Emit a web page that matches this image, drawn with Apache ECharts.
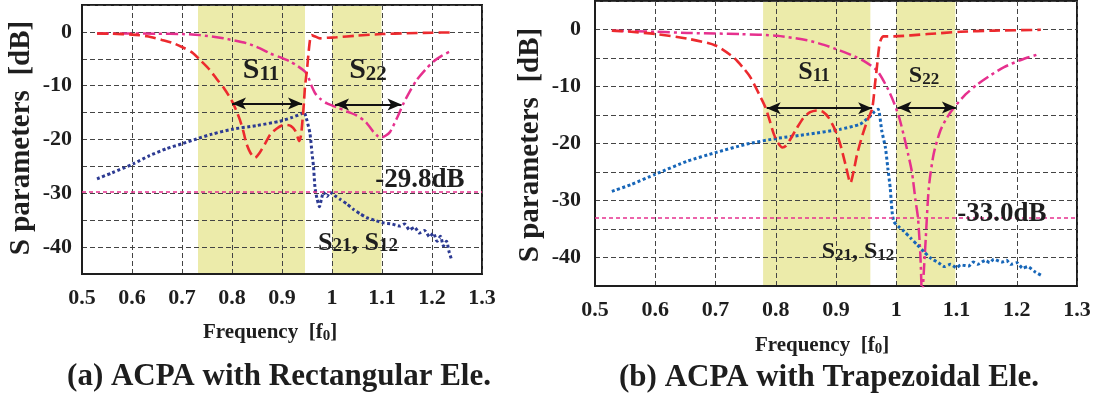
<!DOCTYPE html>
<html><head><meta charset="utf-8">
<script src="https://cdn.jsdelivr.net/npm/echarts@6/dist/echarts.min.js"></script>
<style>html,body{margin:0;padding:0;background:#fff}#c{width:1098px;height:398px}</style>
</head><body><div id="c"></div>
<script>
// ---- data (frequency [f0], dB) ----
const xRange = [0.5, 1.3];
const yRange = [-45, 5];

const s11A = [[0.53,-0.3],[0.56,-0.35],[0.6,-0.5],[0.63,-0.8],[0.66,-1.5],[0.68,-2.0],[0.70,-2.8],[0.72,-3.8],[0.736,-5.2],[0.755,-7.0],[0.769,-8.7],[0.785,-10.6],[0.799,-12.7],[0.808,-14.5],[0.816,-16.4],[0.823,-18.6],[0.829,-20.8],[0.837,-22.5],[0.846,-23.4],[0.855,-22.5],[0.866,-20.8],[0.877,-19.0],[0.889,-18.0],[0.90,-17.4],[0.909,-17.3],[0.918,-17.5],[0.926,-18.3],[0.931,-19.5],[0.934,-20.3],[0.938,-19.2],[0.941,-16.4],[0.944,-13.0],[0.946,-10.2],[0.950,-7.0],[0.953,-4.0],[0.956,-1.5],[0.959,-0.6],[0.965,-0.8],[0.976,-1.2],[0.99,-1.1],[1.009,-1.0],[1.05,-0.7],[1.1,-0.4],[1.15,-0.25],[1.2,-0.15],[1.24,-0.1]];
const s22A = [[0.53,-0.3],[0.6,-0.3],[0.65,-0.35],[0.70,-0.4],[0.736,-0.6],[0.783,-1.2],[0.829,-2.1],[0.855,-3.0],[0.876,-4.0],[0.896,-4.7],[0.916,-5.5],[0.932,-6.4],[0.946,-7.4],[0.953,-8.5],[0.959,-10.0],[0.967,-11.5],[0.976,-12.4],[0.99,-13.3],[1.009,-14.0],[1.03,-14.8],[1.049,-15.5],[1.068,-16.8],[1.083,-18.6],[1.092,-19.4],[1.099,-19.6],[1.107,-19.3],[1.116,-18.6],[1.13,-16.0],[1.143,-13.3],[1.156,-11.0],[1.169,-9.0],[1.186,-7.1],[1.203,-5.5],[1.22,-4.4],[1.239,-3.5]];
const s21A = [[0.53,-27.3],[0.56,-26.2],[0.603,-24.5],[0.635,-23.0],[0.669,-21.7],[0.70,-20.8],[0.729,-19.9],[0.76,-19.0],[0.80,-18.1],[0.85,-17.4],[0.896,-16.6],[0.92,-15.9],[0.939,-15.2],[0.944,-14.9],[0.950,-16.5],[0.956,-18.9],[0.960,-22.5],[0.963,-25.0],[0.966,-28.9],[0.970,-31.0],[0.975,-32.5],[0.979,-31.0],[0.983,-29.8],[0.990,-30.6],[0.996,-29.8],[1.005,-30.4],[1.016,-31.1],[1.03,-32.0],[1.043,-33.0],[1.056,-33.8],[1.069,-34.5],[1.085,-35.0],[1.103,-35.5],[1.12,-35.7],[1.136,-36.1],[1.145,-35.7],[1.155,-36.8],[1.165,-36.3],[1.175,-37.4],[1.185,-36.9],[1.195,-38.1],[1.203,-37.4],[1.21,-38.9],[1.217,-38.0],[1.223,-39.8],[1.229,-38.9],[1.234,-40.8],[1.239,-42.3]];
const refA = -29.8;
const bandsA = [[0.732, 0.946], [1.0, 1.099]];
const arrowsA = [[0.80, 0.94, -13.3], [1.006, 1.139, -13.5]];

const s11B = [[0.528,-0.2],[0.56,-0.4],[0.6,-0.8],[0.653,-1.6],[0.70,-2.8],[0.730,-4.9],[0.745,-6.6],[0.758,-8.4],[0.775,-11.9],[0.783,-13.7],[0.790,-16.0],[0.797,-18.4],[0.804,-19.9],[0.811,-20.7],[0.817,-20.4],[0.824,-19.3],[0.835,-17.3],[0.846,-15.5],[0.857,-14.5],[0.869,-14.2],[0.879,-14.5],[0.888,-15.5],[0.898,-17.5],[0.907,-20.1],[0.916,-23.8],[0.924,-26.9],[0.930,-24.5],[0.935,-21.9],[0.944,-18.5],[0.952,-16.0],[0.960,-13.9],[0.965,-9.3],[0.968,-6.5],[0.971,-3.5],[0.974,-1.9],[0.979,-1.2],[0.996,-1.2],[1.052,-0.8],[1.107,-0.4],[1.162,-0.2],[1.24,-0.05]];
const s22B = [[0.528,-0.2],[0.6,-0.4],[0.653,-0.6],[0.70,-0.7],[0.741,-0.8],[0.802,-1.1],[0.852,-1.9],[0.88,-2.7],[0.907,-3.7],[0.930,-4.7],[0.946,-5.5],[0.968,-7.2],[0.985,-10.2],[0.996,-12.8],[1.005,-15.5],[1.013,-18.8],[1.020,-22.0],[1.026,-25.0],[1.032,-30.0],[1.036,-33.0],[1.040,-39.5],[1.043,-47],[1.046,-42],[1.049,-36.6],[1.054,-27.8],[1.062,-21.9],[1.073,-17.8],[1.084,-15.5],[1.096,-13.7],[1.115,-11.4],[1.135,-9.6],[1.157,-8.0],[1.179,-6.6],[1.208,-5.3],[1.237,-4.3]];
const s21B = [[0.528,-28.4],[0.56,-27.2],[0.6,-25.4],[0.653,-23.1],[0.70,-21.6],[0.752,-20.1],[0.802,-19.1],[0.852,-18.4],[0.907,-17.5],[0.940,-16.6],[0.957,-15.2],[0.964,-14.4],[0.970,-14.0],[0.976,-17.8],[0.982,-20.7],[0.986,-24.3],[0.990,-27.8],[0.993,-31.9],[0.996,-33.7],[1.003,-34.5],[1.013,-35.4],[1.024,-36.6],[1.035,-37.8],[1.046,-39.0],[1.057,-40.1],[1.07,-40.9],[1.08,-41.6],[1.09,-41.2],[1.10,-41.8],[1.107,-41.3],[1.12,-41.5],[1.128,-40.8],[1.135,-41.2],[1.148,-40.5],[1.155,-40.9],[1.162,-40.3],[1.175,-40.8],[1.183,-40.5],[1.19,-41.2],[1.20,-40.9],[1.21,-41.9],[1.218,-41.6],[1.23,-42.5],[1.24,-43.1]];
const refB = -33.0;
const bandsB = [[0.779, 0.957], [1.0, 1.098]];
const arrowsB = [[0.785, 0.960, -13.8], [1.002, 1.099, -13.7]];

// ---- styles ----
const FF = '"Liberation Serif","Times New Roman",serif';
const INK = '#1e1e1e';
const RED = '#ec2a2e', PINK = '#e6308e', BLUE_A = '#2c3a92', BLUE_B = '#1766b8';
const YEL = '#ecebaa';

const grids = [
  {left: 82, top: 5, width: 400, height: 269},
  {left: 595, top: 1, width: 482, height: 285}
];

function xAx(i) {
  return {
    type: 'value', gridIndex: i, min: xRange[0], max: xRange[1], interval: 0.1,
    axisLine: {show: true, onZero: false, lineStyle: {color: INK, width: 2}},
    axisTick: {show: false},
    axisLabel: {margin: 13, color: INK, fontFamily: FF, fontWeight: 'bold', fontSize: 22,
      formatter: v => String(+v.toFixed(1))},
    splitLine: {show: true, lineStyle: {color: '#444', type: [5, 3], width: 1}}
  };
}
function yAx(i, m) {
  return {
    type: 'value', gridIndex: i, min: yRange[0], max: yRange[1], interval: 5,
    axisLine: {show: true, onZero: false, lineStyle: {color: INK, width: 2}},
    axisTick: {show: false},
    axisLabel: {margin: m, color: INK, fontFamily: FF, fontWeight: 'bold', fontSize: 22,
      formatter: v => (Math.round(v) % 10 === 0 ? String(Math.round(v)) : '')},
    splitLine: {show: true, lineStyle: {color: '#444', type: [5, 3], width: 1}}
  };
}

function bandSeries(i, bands) {
  return {
    type: 'custom', xAxisIndex: i, yAxisIndex: i, z: -1, silent: true,
    data: bands,
    renderItem: (params, api) => {
      const p0 = api.coord([api.value(0), yRange[1]]);
      const p1 = api.coord([api.value(1), yRange[0]]);
      return {type: 'rect', shape: {x: p0[0], y: p0[1], width: p1[0] - p0[0], height: p1[1] - p0[1]},
        style: {fill: YEL}};
    }
  };
}

function curveSeries(i, s11, s22, s21, blue, ref, arrows) {
  return [
    {type: 'line', xAxisIndex: i, yAxisIndex: i, data: s22, symbol: 'none', smooth: 0.25, z: 3,
      lineStyle: {color: PINK, width: 2.5, type: [12, 4, 3, 4]}},
    {type: 'line', xAxisIndex: i, yAxisIndex: i, data: s21, symbol: 'none', smooth: 0.2, z: 3,
      lineStyle: {color: blue, width: 3, type: [3, 2.5]},
      markLine: {silent: true, symbol: 'none', label: {show: false},
        lineStyle: {color: PINK, width: 1.6, type: [4, 3]},
        data: [{yAxis: ref}]}},
    {type: 'line', xAxisIndex: i, yAxisIndex: i, data: s11, symbol: 'none', smooth: 0.25, z: 4,
      lineStyle: {color: RED, width: 2.6, type: [11, 5]},
      markLine: {silent: true, symbol: ['arrow', 'arrow'], symbolSize: [9, 14], label: {show: false},
        lineStyle: {color: '#111', width: 1.8, type: 'solid'},
        data: arrows.map(a => [{coord: [a[0], a[2]]}, {coord: [a[1], a[2]]}])}}
  ];
}

function sub(x, y, big, small, text) {
  return {type: 'text', x: x, y: y, z: 10,
    style: {text: text, align: 'center', verticalAlign: 'middle',
      rich: {
        a: {fontSize: big, fontFamily: FF, fontWeight: 'bold', fill: INK, color: INK, verticalAlign: 'bottom'},
        b: {fontSize: small, fontFamily: FF, fontWeight: 'bold', fill: INK, color: INK, verticalAlign: 'bottom'}
      }}};
}
function txt(x, y, text, size, rot) {
  return {type: 'text', x: x, y: y, rotation: rot || 0, z: 10,
    style: {text: text, fontSize: size, fontFamily: FF, fontWeight: 'bold', fill: INK,
      align: 'center', verticalAlign: 'middle'}};
}

const chart = echarts.init(document.getElementById('c'));
chart.setOption({
  animation: false,
  backgroundColor: '#fff',
  grid: grids.map(g => Object.assign({show: true, borderColor: INK, borderWidth: 2, backgroundColor: 'transparent'}, g)),
  xAxis: [xAx(0), xAx(1)],
  yAxis: [yAx(0, 10), yAx(1, 14)],
  series: [
    bandSeries(0, bandsA), bandSeries(1, bandsB),
    ...curveSeries(0, s11A, s22A, s21A, BLUE_A, refA, arrowsA),
    ...curveSeries(1, s11B, s22B, s21B, BLUE_B, refB, arrowsB)
  ],
  graphic: [
    txt(22, 138, 'S parameters  [dB]', 29, Math.PI / 2),
    txt(531, 145, 'S parameters  [dB]', 29, Math.PI / 2),
    {type: 'text', x: 270, y: 333, z: 10, style: {text: '{a|Frequency  [f}{b|0}{a|]}', align: 'center', verticalAlign: 'middle',
      rich: {a: {fontSize: 21, fontFamily: FF, fontWeight: 'bold', fill: INK, verticalAlign: 'bottom'},
             b: {fontSize: 15, fontFamily: FF, fontWeight: 'bold', fill: INK, verticalAlign: 'bottom'}}}},
    {type: 'text', x: 822, y: 346, z: 10, style: {text: '{a|Frequency  [f}{b|0}{a|]}', align: 'center', verticalAlign: 'middle',
      rich: {a: {fontSize: 21, fontFamily: FF, fontWeight: 'bold', fill: INK, verticalAlign: 'bottom'},
             b: {fontSize: 15, fontFamily: FF, fontWeight: 'bold', fill: INK, verticalAlign: 'bottom'}}}},
    txt(279, 377, '(a) ACPA with Rectangular Ele.', 31),
    txt(829, 378, '(b) ACPA with Trapezoidal Ele.', 31),
    sub(261, 70, 30, 21, '{a|S}{b|11}'),
    sub(368, 70, 30, 21, '{a|S}{b|22}'),
    sub(358, 243, 26, 19, '{a|S}{b|21}{a|, S}{b|12}'),
    txt(420, 180, '-29.8dB', 27),
    sub(814, 72, 26, 18, '{a|S}{b|11}'),
    sub(924, 76, 24, 17, '{a|S}{b|22}'),
    sub(858, 252, 24, 17, '{a|S}{b|21}{a|, S}{b|12}'),
    txt(1002, 214, '-33.0dB', 27)
  ]
});
</script>
</body></html>
